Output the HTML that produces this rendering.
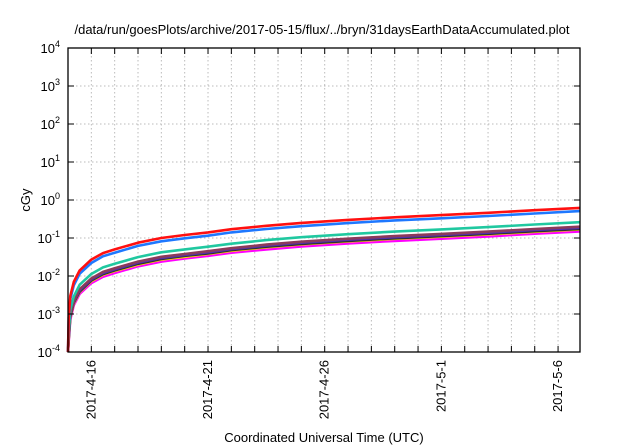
<!DOCTYPE html>
<html><head><meta charset="utf-8"><style>
body{margin:0;background:#fff}
svg{display:block;font-family:"Liberation Sans",sans-serif}
</style></head><body>
<svg id="c" width="640" height="448">
<text x="322" y="34" font-size="13" text-anchor="middle">/data/run/goesPlots/archive/2017-05-15/flux/../bryn/31daysEarthDataAccumulated.plot</text>
<g id="grid"></g><g id="series"></g><g id="axes"></g>
<text transform="translate(30,200) rotate(-90)" font-size="13" text-anchor="middle">cGy</text>
<text x="324" y="442" font-size="13" text-anchor="middle">Coordinated Universal Time (UTC)</text>
</svg>
<script>
const days=[0,0.03,0.1,0.25,0.5,1,1.5,2,3,4,5,6,7,8.5,10,12,14,16,18,20,21.94];
const xTickDays=[1,6,11,16,21];
const xTickLabels=["2017-4-16","2017-4-21","2017-4-26","2017-5-1","2017-5-6"];
const yExps=[-4,-3,-2,-1,0,1,2,3,4];
const red=[0.0001,0.0008,0.003,0.007,0.014,0.027,0.04,0.05,0.075,0.1,0.12,0.14,0.17,0.21,0.25,0.3,0.35,0.4,0.46,0.54,0.62];
const blue=[0.0001,0.00066,0.0025,0.0057,0.0115,0.022,0.033,0.041,0.062,0.082,0.098,0.115,0.14,0.172,0.205,0.246,0.29,0.33,0.38,0.44,0.51];
const teal=[0.0001,0.00034,0.0013,0.0029,0.0059,0.0113,0.0168,0.021,0.0315,0.042,0.05,0.059,0.071,0.088,0.105,0.126,0.147,0.168,0.193,0.227,0.26];
const brown=[0.0001,0.00026,0.00096,0.0022,0.0045,0.0086,0.0128,0.016,0.024,0.032,0.038,0.045,0.054,0.067,0.08,0.096,0.112,0.128,0.147,0.173,0.198];
const purple=[0.0001,0.00024,0.0009,0.0021,0.0042,0.0081,0.012,0.015,0.0225,0.03,0.036,0.042,0.051,0.063,0.075,0.09,0.105,0.12,0.138,0.162,0.186];
const black=[0.0001,0.00022,0.00084,0.002,0.0039,0.0076,0.0112,0.014,0.021,0.028,0.034,0.039,0.048,0.059,0.07,0.084,0.098,0.112,0.129,0.151,0.174];
const yellow=[0.0001,0.00022,0.00081,0.0019,0.0038,0.0073,0.0108,0.0135,0.02,0.027,0.032,0.038,0.046,0.057,0.068,0.081,0.095,0.108,0.124,0.146,0.167];
const magenta=[0.0001,0.00019,0.00072,0.0017,0.0034,0.0065,0.0096,0.012,0.018,0.024,0.029,0.034,0.041,0.05,0.06,0.072,0.084,0.096,0.11,0.13,0.149];
const seriesList=[["magenta",magenta,"#ff00ff"],["yellow",yellow,"#ffe000"],["black",black,"#303030"],["purple",purple,"#5030b0"],["brown",brown,"#8b3a5a"],["teal",teal,"#20c8a0"],["blue",blue,"#1e78ff"],["red",red,"#ff1010"]];
const L=68,R=580,T=48,B=352,D0=0,D1=21.94;
const xs=d=>L+(d-D0)/(D1-D0)*(R-L);
const ys=v=>B-(Math.log10(v)+4)/8*(B-T);
const NS="http://www.w3.org/2000/svg";
function mk(p,t,a){const e=document.createElementNS(NS,t);for(const k in a)e.setAttribute(k,a[k]);p.appendChild(e);return e;}
const grid=document.getElementById('grid'),ax=document.getElementById('axes'),sg=document.getElementById('series');
for(let d=1;d<=21;d++){const x=xs(d);
const g=mk(grid,'line',{x1:x,x2:x,y1:T,y2:B,stroke:'#bbb','stroke-dasharray':'1.5,2.5'});


const t1=mk(ax,'line',{x1:x,x2:x,y1:B,y2:B-6,stroke:'#000'});


const t2=mk(ax,'line',{x1:x,x2:x,y1:T,y2:T+6,stroke:'#000'});

}
yExps.forEach(e=>{const y=ys(Math.pow(10,e));
const g=mk(grid,'line',{x1:L,x2:R,y1:y,y2:y,stroke:'#bbb','stroke-dasharray':'1.5,2.5'});


const t1=mk(ax,'line',{x1:L,x2:L+6,y1:y,y2:y,stroke:'#000'});


const t2=mk(ax,'line',{x1:R,x2:R-6,y1:y,y2:y,stroke:'#000'});


const tx=mk(ax,'text',{x:60,y:y+5,'font-size':'13','text-anchor':'end'});


tx.textContent='10';const s=mk(tx,'tspan',{'font-size':'9',dy:'-6'});s.textContent=String(e);});
xTickDays.forEach((d,i)=>{const x=xs(d);
const tx=mk(ax,'text',{transform:`translate(${x+4},${B+8}) rotate(-90)`,'font-size':'13','text-anchor':'end'});


tx.textContent=xTickLabels[i];});
const fr=mk(ax,'rect',{x:L,y:T,width:R-L,height:B-T,fill:'none',stroke:'#000','stroke-width':1.3});


seriesList.forEach(([n,v,c])=>{
const p=mk(sg,'polyline',{points:days.map((d,i)=>xs(d).toFixed(1)+','+ys(v[i]).toFixed(1)).join(' '),fill:'none',stroke:c,'stroke-width':2.6,'stroke-linejoin':'round'});

});
</script>
</body></html>
